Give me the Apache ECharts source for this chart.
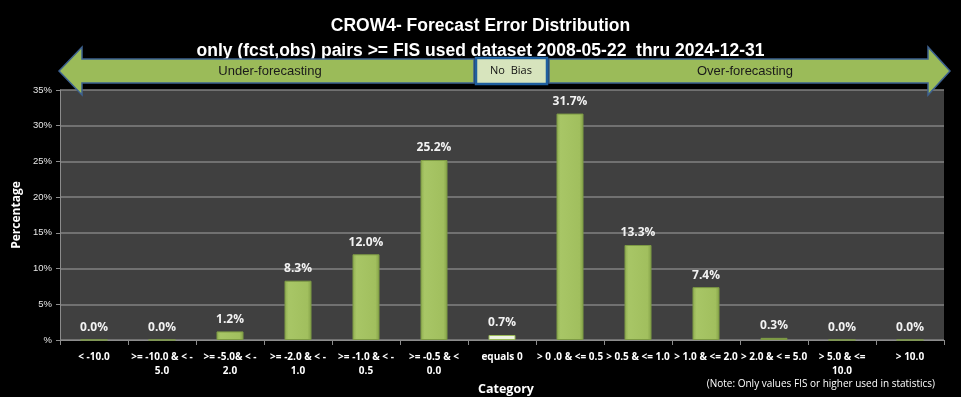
<!DOCTYPE html>
<html>
<head>
<meta charset="utf-8">
<script src="https://cdn.jsdelivr.net/npm/echarts@6/dist/echarts.min.js"></script>
<style>
html, body { margin: 0; padding: 0; background: #000; }
#chart { width: 961px; height: 397px; }
</style>
</head>
<body>
<div id="chart"></div>
<script>
// categories and values
const categories = [
    '< -10.0', '>= -10.0 & < -\n5.0', '>= -5.0& < -\n2.0', '>= -2.0 & < -\n1.0',
    '>= -1.0 & < -\n0.5', '>= -0.5 & <\n0.0', 'equals 0', '> 0 .0 & <= 0.5',
    '> 0.5 & <= 1.0', '> 1.0 & <= 2.0', '> 2.0 & < = 5.0', '> 5.0 & <=\n10.0', '> 10.0'
];
const percentages = [0.0, 0.0, 1.2, 8.3, 12.0, 25.2, 0.7, 31.7, 13.3, 7.4, 0.3, 0.0, 0.0];
const yTicks = [0, 5, 10, 15, 20, 25, 30, 35];

const FONT = '"Liberation Sans Narrow", "Liberation Sans", sans-serif';

function initErrorChart() {
    const chart = echarts.init(document.getElementById('chart'));

    const barData = percentages.map(function (v, i) {
        const pale = categories[i] === 'equals 0';
        return {
            value: v,
            itemStyle: pale ? { color: '#eef3e2', borderColor: '#9bbb59' } : {}
        };
    });

    const option = {
        backgroundColor: '#000',
        animation: false,
        title: [{
            text: 'CROW4- Forecast Error Distribution',
            left: 'center',
            top: 12,
            textStyle: { color: '#fff', fontSize: 17.5, fontWeight: 'bold', fontFamily: FONT }
        }, {
            text: 'only (fcst,obs) pairs >= FIS used dataset 2008-05-22  thru 2024-12-31',
            left: 'center',
            top: 37,
            textStyle: { color: '#fff', fontSize: 17.5, fontWeight: 'bold', fontFamily: FONT }
        }],
        grid: { left: 60, right: 17, top: 90, bottom: 57, outerBoundsMode: 'none' },
        xAxis: {
            type: 'category',
            data: categories,
            name: 'Category',
            nameLocation: 'middle',
            nameGap: 39,
            nameTextStyle: { color: '#fff', fontSize: 12.5, fontWeight: 'bold', fontFamily: 'Open Sans, sans-serif', padding: [0, 0, 0, 8] },
            axisLine: { lineStyle: { color: '#8c8c8c' } },
            axisTick: { show: true, alignWithLabel: false, length: 5, lineStyle: { color: '#8c8c8c' } },
            axisLabel: {
                color: '#fff', fontSize: 10, fontWeight: 'bold', fontFamily: 'Open Sans, sans-serif',
                interval: 0, margin: 10, lineHeight: 14
            }
        },
        yAxis: {
            type: 'value',
            min: 0,
            max: 35,
            interval: 5,
            name: 'Percentage',
            nameLocation: 'middle',
            nameGap: 35,
            nameTextStyle: { color: '#fff', fontSize: 12, fontWeight: 'bold', fontFamily: 'Open Sans, sans-serif' },
            axisLine: { show: true, lineStyle: { color: '#8c8c8c' } },
            axisTick: { show: true, length: 4, lineStyle: { color: '#8c8c8c' } },
            axisLabel: {
                color: '#e6e6e6', fontSize: 9.5, fontFamily: FONT, margin: 8,
                formatter: function (v) { return yTicks.indexOf(v) === 0 ? '%' : v + '%'; }
            },
            splitLine: { lineStyle: { color: '#828282', width: 1.5 } }
        },
        series: [{
            name: 'Percentage',
            type: 'bar',
            data: barData,
            barWidth: 27,
            itemStyle: {
                color: new echarts.graphic.LinearGradient(0, 0, 1, 0, [
                    { offset: 0, color: '#8fad50' },
                    { offset: 0.15, color: '#a8c666' },
                    { offset: 0.85, color: '#a1bf5e' },
                    { offset: 1, color: '#84a148' }
                ]),
                borderColor: '#7d9a44',
                borderWidth: 1
            },
            label: {
                show: true,
                position: 'top',
                distance: 6,
                color: '#f2f2f2',
                fontSize: 12,
                fontWeight: 'bold',
                fontFamily: 'Open Sans, sans-serif',
                formatter: function (p) { return p.value.toFixed(1) + '%'; }
            }
        }],
        graphic: [{
            type: 'rect',
            left: 60,
            top: 90,
            shape: { width: 884, height: 250 },
            style: { fill: '#404040' },
            z: -1,
            silent: true
        }, {
            type: 'polygon',
            shape: { points: [[59, 71], [82, 47], [82, 59], [474, 59], [474, 83], [82, 83], [82, 95]] },
            style: { fill: '#9bbb59', stroke: '#3d6190', lineWidth: 1.5 },
            z: 10
        }, {
            type: 'polygon',
            shape: { points: [[549, 59], [928, 59], [928, 47], [950, 71], [928, 95], [928, 83], [549, 83]] },
            style: { fill: '#9bbb59', stroke: '#3d6190', lineWidth: 1.5 },
            z: 10
        }, {
            type: 'rect',
            shape: { x: 476, y: 58, width: 71, height: 26 },
            style: { fill: '#d7e4bd', stroke: '#1f5f9f', lineWidth: 2.5 },
            z: 11
        }, {
            type: 'text',
            x: 511, y: 71,
            style: { text: 'No  Bias', fill: '#111', font: '11px "Open Sans", sans-serif', align: 'center', verticalAlign: 'middle' },
            z: 12
        }, {
            type: 'text',
            x: 270, y: 71,
            style: { text: 'Under-forecasting', fill: '#1a1a1a', font: '13px ' + FONT, align: 'center', verticalAlign: 'middle' },
            z: 12
        }, {
            type: 'text',
            x: 745, y: 71,
            style: { text: 'Over-forecasting', fill: '#1a1a1a', font: '13px ' + FONT, align: 'center', verticalAlign: 'middle' },
            z: 12
        }, {
            type: 'text',
            x: 935, y: 384,
            style: { text: '(Note: Only values FIS or higher used in statistics)', fill: '#fff', font: '10px "Open Sans", sans-serif', align: 'right', verticalAlign: 'middle' },
            z: 12
        }]
    };

    chart.setOption(option);
}

window.onload = function () {
    initErrorChart();
};
</script>
</body>
</html>
